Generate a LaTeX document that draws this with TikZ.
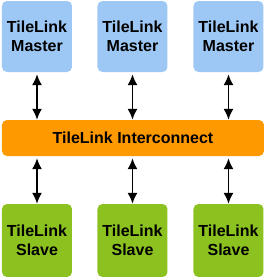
\documentclass[tikz,border=0pt]{standalone}
\usepackage{fontspec}
\setmainfont{Liberation Sans}
\usetikzlibrary{arrows.meta, positioning}

\definecolor{masterblue}{HTML}{9DC8F5}
\definecolor{busorange}{HTML}{FF9900}
\definecolor{slavegreen}{HTML}{8CC21F}

\tikzset{
  unit/.style={rounded corners=5pt, minimum width=70pt, align=center,
    font=\fontsize{16}{18.5}\selectfont\bfseries, inner sep=0pt},
  master/.style={unit, fill=masterblue, minimum height=71pt},
  slave/.style={unit, fill=slavegreen, minimum height=73pt},
  bus/.style={rounded corners=5pt, fill=busorange, minimum width=262pt,
    minimum height=36pt, font=\fontsize{16}{18.5}\selectfont\bfseries, inner sep=0pt},
  link/.style={{Latex[length=11pt,width=10pt]}-{Latex[length=11pt,width=10pt]},
    line width=1.6pt, shorten <=2pt}
}

\begin{document}
\begin{tikzpicture}[x=1pt,y=1pt]
\useasboundingbox (0,0) rectangle (265,-277);

% Interconnect bar
\node[bus] (ic) at (133,-138) {TileLink Interconnect};

% Masters and slaves
\foreach \k/\x in {1/37, 2/132.5, 3/228.5} {
  \node[master] (m\k) at (\x,-36.5) {TileLink\\Master};
  \node[slave] (s\k) at (\x,-240.5) {TileLink\\Slave};
  \draw[link] (m\k.south) -- (m\k.south |- ic.north);
  \draw[link] (ic.south -| s\k.north) -- (s\k.north);
}

\end{tikzpicture}
\end{document}
